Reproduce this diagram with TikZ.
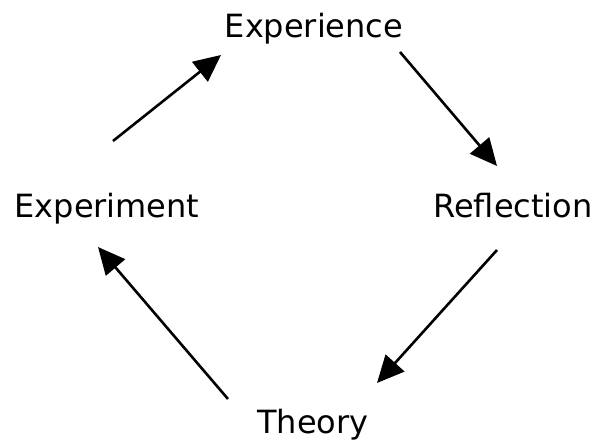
\documentclass[tikz,border=0pt]{standalone}
\usepackage{fontspec}
\setmainfont{DejaVu Sans}
\usetikzlibrary{arrows.meta}
\begin{document}
\begin{tikzpicture}[x=1pt,y=-1pt,
  stage/.style={anchor=base,inner sep=0pt,font=\fontsize{32}{38}\selectfont},
  cycle/.style={line width=2.6pt,-{Triangle[length=27pt,width=25pt]}}]
\useasboundingbox (0,0) rectangle (602,443);
% the four stages of the cycle
\node[stage] (exp)  at (314,37.5)  {Experience};
\node[stage] (refl) at (513,218)   {Reflection};
\node[stage] (theo) at (313,433)   {Theory};
\node[stage] (expm) at (107,217.5) {Experiment};
% arrow end points between the stages
\coordinate (s1) at (113,141);  \coordinate (e1) at (221,55);
\coordinate (s2) at (400,52);   \coordinate (e2) at (497,166);
\coordinate (s3) at (497,250);  \coordinate (e3) at (377,383);
\coordinate (s4) at (228,399);  \coordinate (e4) at (98,247);
\draw[cycle] (s1) -- (e1);
\draw[cycle] (s2) -- (e2);
\draw[cycle] (s3) -- (e3);
\draw[cycle] (s4) -- (e4);
\end{tikzpicture}
\end{document}
